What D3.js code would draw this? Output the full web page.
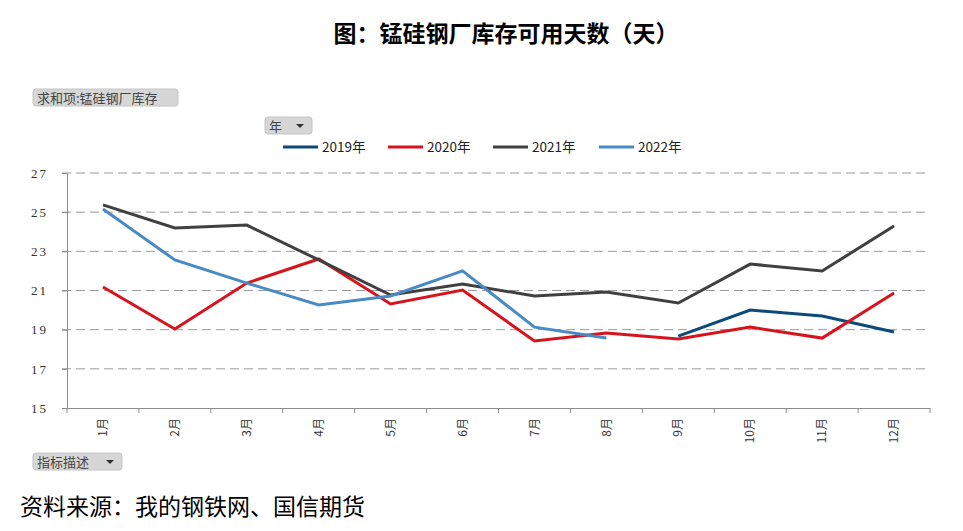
<!DOCTYPE html>
<html lang="zh">
  <head>
    <meta charset="UTF-8" />
    <title>锰硅钢厂库存可用天数</title>
    <style>
      body {
        margin: 0;
        background: #fff;
        font-family: "Noto Sans CJK SC", sans-serif;
      }
      .grid line {
        stroke: #9a9a9a;
        stroke-dasharray: 9 5;
      }
      .axis path,
      .axis line {
        stroke: #8c8c8c;
      }
      .ylab text {
        font-family: "Liberation Serif", serif;
        font-size: 13px;
        letter-spacing: 2px;
        fill: #333;
      }
      .xlab text {
        font-family: "Noto Sans CJK SC", serif;
        font-size: 12px;
        fill: #333;
      }
      .series path {
        fill: none;
        stroke-width: 3;
        stroke-linejoin: miter;
      }
      .btn rect {
        fill: #d6d6d6;
        stroke: #c4c4c4;
      }
      .btn text {
        font-size: 13px;
        fill: #444;
      }
    </style>
  </head>
  <body>
    <svg width="963" height="531"></svg>
  </body>
  <script src="https://cdn.jsdelivr.net/npm/d3@7"></script>
  <script>
    let months = ["1月", "2月", "3月", "4月", "5月", "6月", "7月", "8月", "9月", "10月", "11月", "12月"];
    let yTicks = [15, 17, 19, 21, 23, 25, 27];

    let y2019 = [null, null, null, null, null, null, null, null, 18.67, 20.0, 19.7, 18.88];
    let y2020 = [21.18, 19.03, 21.38, 22.61, 20.31, 21.02, 18.42, 18.83, 18.52, 19.13, 18.57, 20.87];
    let y2021 = [25.37, 24.19, 24.34, 22.56, 20.77, 21.33, 20.72, 20.92, 20.36, 22.35, 22.0, 24.29];
    let y2022 = [25.16, 22.56, 21.38, 20.26, 20.72, 22.0, 19.13, 18.57, null, null, null, null];

    let series = [
      { name: "2019年", color: "#0b4a7c", values: y2019 },
      { name: "2020年", color: "#d7141e", values: y2020 },
      { name: "2021年", color: "#404040", values: y2021 },
      { name: "2022年", color: "#4a8ac4", values: y2022 },
    ];

    const svg = d3.select("svg");
    const mLeft = 67, mRight = 930, mTop = 173, mBottom = 408;

    const x = d3.scaleBand().domain(months).range([mLeft, mRight]);
    const y = d3.scaleLinear().domain([15, 27]).range([mBottom, mTop]);

    // title
    svg.append("text")
      .attr("x", 506).attr("y", 42)
      .attr("text-anchor", "middle")
      .attr("font-size", 23).attr("font-weight", "bold")
      .attr("fill", "#000")
      .text("图：锰硅钢厂库存可用天数（天）");

    // pivot buttons
    function button(bx, by, w, label, arrow) {
      let g = svg.append("g").attr("class", "btn");
      g.append("rect").attr("x", bx).attr("y", by).attr("width", w).attr("height", 17).attr("rx", 3);
      g.append("text").attr("x", bx + 4).attr("y", by + 13.5).text(label);
      if (arrow) {
        let ax = bx + w - 16, ay = by + 7;
        g.append("path").attr("d", `M${ax},${ay}h8l-4,4z`).attr("fill", "#333");
      }
    }
    button(33, 89, 145, "求和项:锰硅钢厂库存", false);
    button(265, 117, 47, "年", true);
    button(33, 453, 89, "指标描述", true);

    // gridlines
    svg.append("g").attr("class", "grid")
      .selectAll("line")
      .data(yTicks.slice(1))
      .join("line")
      .attr("x1", mLeft - 5).attr("x2", mRight)
      .attr("y1", (d) => y(d)).attr("y2", (d) => y(d));

    // y axis
    svg.append("g").attr("class", "axis ylab")
      .attr("transform", `translate(${mLeft},0)`)
      .call(d3.axisLeft(y).tickValues(yTicks).tickSize(5).tickSizeOuter(0).tickPadding(14));

    // x axis
    const xAxis = svg.append("g").attr("class", "axis xlab")
      .attr("transform", `translate(0,${mBottom})`)
      .call(d3.axisBottom(x).tickSize(0).tickSizeOuter(0));
    xAxis.selectAll(".tick text")
      .attr("transform", "rotate(-90)")
      .attr("text-anchor", "end")
      .attr("x", -10).attr("y", 0).attr("dy", "0.35em");
    xAxis.selectAll(".bound")
      .data(d3.range(months.length + 1))
      .join("line")
      .attr("class", "bound")
      .attr("x1", (i) => mLeft + i * x.bandwidth())
      .attr("x2", (i) => mLeft + i * x.bandwidth())
      .attr("y1", 0).attr("y2", 5);

    // lines
    const line = d3.line()
      .defined((d) => d != null)
      .x((d, i) => x(months[i]) + x.bandwidth() / 2)
      .y((d) => y(d));

    svg.append("g").attr("class", "series")
      .selectAll("path")
      .data(series)
      .join("path")
      .attr("stroke", (d) => d.color)
      .attr("d", (d) => line(d.values));

    // legend
    const legendX = [283, 388, 493, 599];
    const lg = svg.append("g").selectAll("g")
      .data(series)
      .join("g")
      .attr("transform", (d, i) => `translate(${legendX[i]},147)`);
    lg.append("line")
      .attr("x1", 0).attr("x2", 35)
      .attr("stroke", (d) => d.color).attr("stroke-width", 3);
    lg.append("text")
      .attr("x", 39).attr("y", 5)
      .attr("font-size", 13.5).attr("fill", "#222")
      .text((d) => d.name);

    // source
    svg.append("text")
      .attr("x", 20).attr("y", 515)
      .attr("font-size", 23).attr("fill", "#000")
      .text("资料来源：我的钢铁网、国信期货");
  </script>
</html>
